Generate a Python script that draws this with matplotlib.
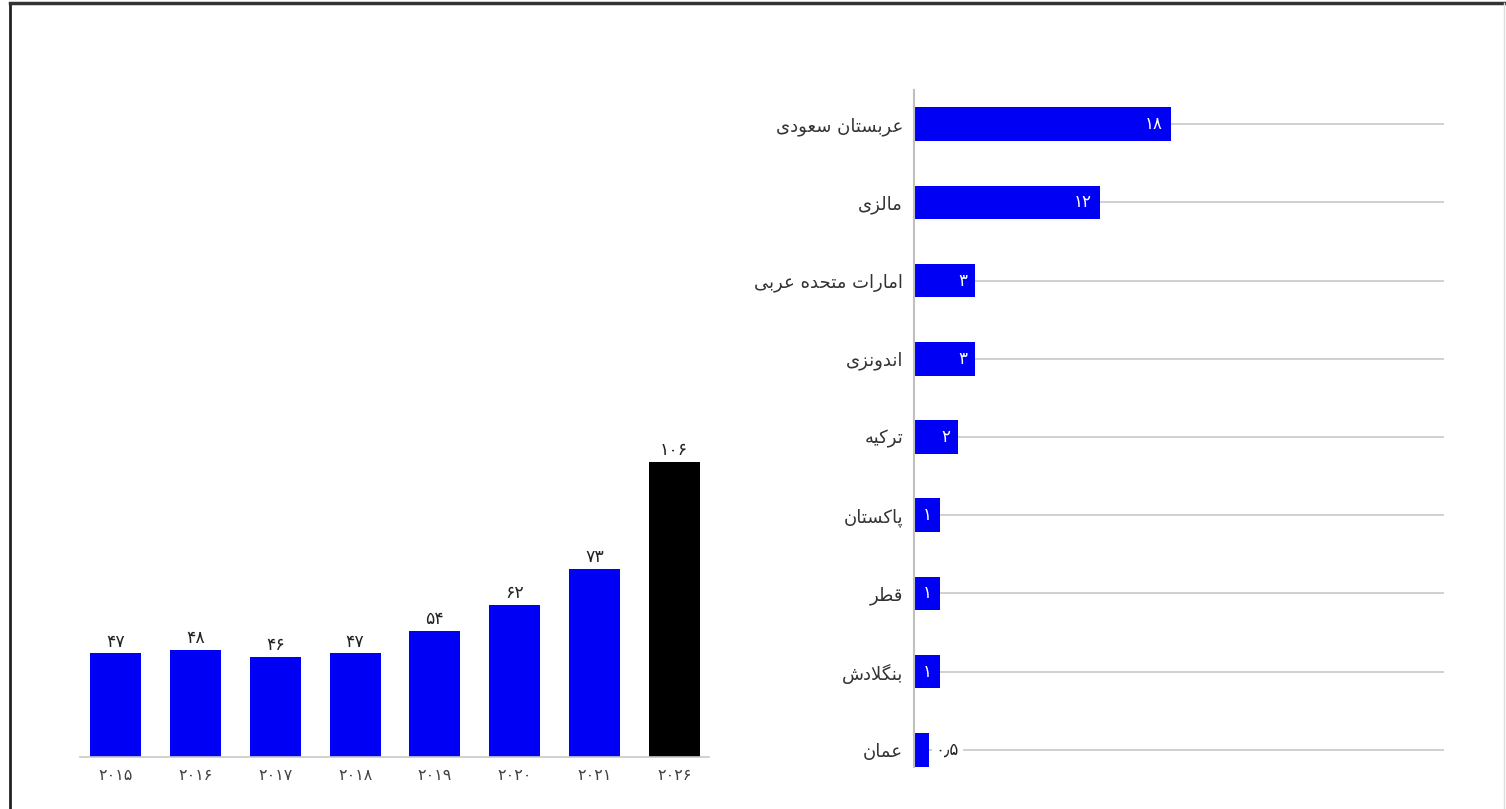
import matplotlib.pyplot as plt
import numpy as np
from matplotlib.lines import Line2D

countries = ['عربستان سعودی', 'مالزی', 'امارات متحده عربی', 'اندونزی', 'ترکیه',
             'پاکستان', 'قطر', 'بنگلادش', 'عمان']
country_values = [18, 12, 3, 3, 2, 1, 1, 1, 0.5]
country_labels = ['۱۸', '۱۲', '۳', '۳', '۲', '۱', '۱', '۱', '۰٫۵']

years = ['۲۰۱۵', '۲۰۱۶', '۲۰۱۷', '۲۰۱۸', '۲۰۱۹', '۲۰۲۰', '۲۰۲۱', '۲۰۲۶']
year_values = [47, 48, 46, 47, 54, 62, 73, 106]
year_labels = ['۴۷', '۴۸', '۴۶', '۴۷', '۵۴', '۶۲', '۷۳', '۱۰۶']
year_colors = ['#0000f5'] * 7 + ['#000000']

#----------------------------------------------------------------------
# matplotlib has no arabic shaping, so map letters to presentation forms
# (isolated, final, initial, medial) and reverse for right-to-left display

FORMS = {
	'ا': ('\uFE8D', '\uFE8E', None, None),
	'ب': ('\uFE8F', '\uFE90', '\uFE91', '\uFE92'),
	'پ': ('\uFB56', '\uFB57', '\uFB58', '\uFB59'),
	'ت': ('\uFE95', '\uFE96', '\uFE97', '\uFE98'),
	'ح': ('\uFEA1', '\uFEA2', '\uFEA3', '\uFEA4'),
	'د': ('\uFEA9', '\uFEAA', None, None),
	'ر': ('\uFEAD', '\uFEAE', None, None),
	'ز': ('\uFEAF', '\uFEB0', None, None),
	'س': ('\uFEB1', '\uFEB2', '\uFEB3', '\uFEB4'),
	'ش': ('\uFEB5', '\uFEB6', '\uFEB7', '\uFEB8'),
	'ط': ('\uFEC1', '\uFEC2', '\uFEC3', '\uFEC4'),
	'ع': ('\uFEC9', '\uFECA', '\uFECB', '\uFECC'),
	'ق': ('\uFED5', '\uFED6', '\uFED7', '\uFED8'),
	'ک': ('\uFB8E', '\uFB8F', '\uFB90', '\uFB91'),
	'گ': ('\uFB92', '\uFB93', '\uFB94', '\uFB95'),
	'ل': ('\uFEDD', '\uFEDE', '\uFEDF', '\uFEE0'),
	'م': ('\uFEE1', '\uFEE2', '\uFEE3', '\uFEE4'),
	'ن': ('\uFEE5', '\uFEE6', '\uFEE7', '\uFEE8'),
	'ه': ('\uFEE9', '\uFEEA', '\uFEEB', '\uFEEC'),
	'و': ('\uFEED', '\uFEEE', None, None),
	'ی': ('\uFBFC', '\uFBFD', '\uFBFE', '\uFBFF'),
}


def joins_next(c):
	return c in FORMS and FORMS[c][2] is not None


def shape(text):
	out = []
	i = 0
	while i < len(text):
		c = text[i]
		if c not in FORMS:
			out.append(c)
			i += 1
			continue
		prev = text[i - 1] if i > 0 else ''
		nxt = text[i + 1] if i + 1 < len(text) else ''
		after_join = joins_next(prev)
		if c == 'ل' and nxt == 'ا':
			out.append('\uFEFC' if after_join else '\uFEFB')
			i += 2
			continue
		before_join = joins_next(c) and nxt in FORMS
		iso, fin, ini, med = FORMS[c]
		if after_join and before_join:
			out.append(med)
		elif after_join:
			out.append(fin)
		elif before_join:
			out.append(ini)
		else:
			out.append(iso)
		i += 1
	return ''.join(out)[::-1]

#----------------------------------------------------------------------

def fwd(x):
	x = np.asarray(x, dtype=float)
	return np.sign(x) * np.abs(x) ** 0.8


def inv(x):
	x = np.asarray(x, dtype=float)
	return np.sign(x) * np.abs(x) ** 1.25


def plot_countries(ax):
	pos = list(range(len(countries)))
	for p in pos:
		ax.axhline(p, color='#c8c8c8', linewidth=1.2, zorder=1)
	ax.barh(pos, country_values, height=0.43, color='#0000f5', zorder=2)

	for p, v, lab in zip(pos, country_values, country_labels):
		if v >= 1:
			ax.annotate(lab, (v, p), xytext=(-6, 0), textcoords='offset points',
				ha='right', va='center', color='white', fontsize=12, zorder=3)
		else:
			ax.annotate(lab, (v, p), xytext=(5, 0), textcoords='offset points',
				ha='left', va='center', color='#222222', fontsize=12, zorder=3,
				bbox=dict(facecolor='white', edgecolor='none', pad=3))

	ax.set_yticks(pos)
	ax.set_yticklabels([shape(c) for c in countries], fontsize=13, color='#333333')
	ax.tick_params(axis='y', length=0, pad=8)
	ax.set_xscale('function', functions=(fwd, inv))
	ax.set_xticks([])
	ax.set_xticks([], minor=True)
	ax.set_xlim(0, 44.5)
	ax.set_ylim(8.22, -0.44)
	for s in ['top', 'right', 'bottom']:
		ax.spines[s].set_visible(False)
	ax.spines['left'].set_color('#c0c0c0')
	ax.spines['left'].set_linewidth(1.5)
	ax.spines['left'].set_zorder(4)


def plot_years(ax):
	pos = list(range(len(years)))
	bars = ax.bar(pos, year_values, width=0.64, color=year_colors, zorder=2)
	for b, lab in zip(bars, year_labels):
		ax.annotate(lab, (b.get_x() + b.get_width() / 2, b.get_height()),
			xytext=(0, 2), textcoords='offset points', ha='center', va='bottom',
			fontsize=12.5, color='#222222')

	ax.set_xticks(pos)
	ax.set_xticklabels(years, fontsize=11.5, color='#444444')
	ax.tick_params(axis='x', length=0, pad=8)
	ax.set_yticks([])
	ax.set_xlim(-0.45, 7.44)
	ax.set_ylim(15, 125.2)
	for s in ['top', 'right', 'left']:
		ax.spines[s].set_visible(False)
	ax.spines['bottom'].set_color('#c8c8c8')
	ax.spines['bottom'].set_linewidth(1.2)
	ax.spines['bottom'].set_zorder(3)

#----------------------------------------------------------------------

def main():
	plt.rcParams['font.family'] = ['DejaVu Sans']
	fig = plt.figure(figsize=(15.06, 8.09), dpi=100)

	ax_r = fig.add_axes([0.607, 0.052, 0.352, 0.837])
	ax_l = fig.add_axes([0.053, 0.0643, 0.418, 0.4413])
	plot_countries(ax_r)
	plot_years(ax_l)

	# frame around the picture
	fig.add_artist(Line2D([0.0066, 0.0066], [0.0, 0.9963], color='#222222', linewidth=2))
	fig.add_artist(Line2D([0.0066, 1.0], [0.9963, 0.9963], color='#333333', linewidth=2.5))
	fig.add_artist(Line2D([0.9987, 0.9987], [0.0, 0.9963], color='#dddddd', linewidth=1))

	fig.savefig('out.png', dpi=100)


if __name__ == '__main__':
	main()
